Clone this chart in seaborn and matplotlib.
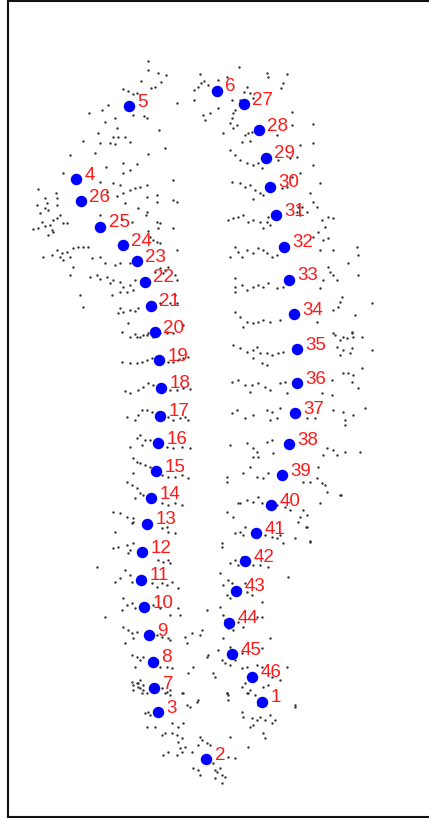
import matplotlib
matplotlib.use("Agg")
import matplotlib.pyplot as plt
import seaborn as sns

# ---------------- data (pixel-space coordinates) -------------
lm_id = list(range(1, 47))
lm_x = [262.3, 206.3, 158.3, 76.0, 128.7, 216.7, 154.3, 153.0, 148.7, 144.3,
        141.0, 142.3, 147.0, 151.0, 155.7, 158.0, 160.0, 160.7, 159.0, 155.0,
        151.0, 145.0, 137.0, 123.0, 100.0, 80.7, 243.7, 259.0, 265.7, 270.0,
        276.0, 283.7, 289.0, 294.0, 296.7, 297.0, 295.3, 289.0, 282.0, 271.3,
        256.3, 245.0, 236.0, 229.3, 231.7, 251.7]
lm_y = [701.7, 759.3, 712.3, 179.0, 106.0, 90.7, 688.3, 662.0, 635.0, 607.3,
        580.0, 552.3, 524.0, 498.0, 471.0, 443.0, 415.7, 387.7, 360.0, 332.0,
        305.7, 281.7, 261.0, 245.0, 226.7, 201.0, 104.3, 130.0, 157.7, 186.7,
        215.0, 246.7, 280.0, 314.0, 349.3, 383.3, 413.3, 444.0, 475.0, 505.0,
        533.0, 561.3, 590.7, 622.7, 654.3, 676.7]

cloud_top = [(148,61),(148,70),(158,73),(166,75),(161,82),(141,81),(155,87),(151,88),(123,89),(128,91),
             (133,94),(137,93),(177,103),(108,105),(102,110),(89,113),(133,115),(144,116),(147,118),(115,118),
             (105,122),(159,130),(117,128),(98,133),(113,137),(118,137),(125,137),
             (200,74),(194,90),(198,87),(201,83),(204,81),(208,85),(218,80),(227,77),(239,67),(267,73),
             (268,77),(287,74),(283,83),(281,88),(247,87),(244,92),(250,93),(232,100),(253,98),(218,108),
             (194,100),(210,113),(203,115),(205,120),(233,113),(235,110),(232,118),(230,123),(233,128),
             (237,125),(240,100),(292,112),(313,124),(292,125),(245,135),(248,133),(252,132),(277,135),(223,133)]

cloud_upper_left = [(83,141),(100,143),(110,143),(115,144),(130,142),(165,148),(148,154),(70,155),(95,153),
                    (123,163),(137,164),(130,170),(106,167),(63,173),(123,173),(100,182),(113,183),(120,185),
                    (147,185),(173,180),(38,189),(56,193),(45,198),(47,203),(57,198),(57,205),(37,205),
                    (107,192),(117,196),(123,193),(130,190),(135,188),(140,187),(157,195),(147,197),(157,202),
                    (125,203),(138,208),(173,200),(177,202),(40,213),(45,208),(48,210),(60,215),(53,220),
                    (57,218),(42,222),(45,226),(50,225),(38,228),(33,229),(52,230),(48,235),(53,232),(63,223),
                    (67,223),(147,212),(146,215),(157,222),(160,223),(158,228),(148,231),(173,228),(100,215),
                    (122,219),(132,222),(150,237),(153,240),(157,242),(160,243),(177,250),
                    (57,250),(62,253),(67,252),(73,248),(78,247),(83,247),(88,247),(43,257),(52,255),(60,257),
                    (70,257),(63,260),(73,267),(92,258),(100,257),(105,263),(115,265),(120,263),(130,263),
                    (70,275),(90,277),(97,275),(100,279),(107,277),(113,280),(120,282),(123,287),(130,285),
                    (127,292),(133,290),(120,292),(135,280),(110,283),(155,272),(160,268),(165,270),(168,267),
                    (163,273),(175,275),(177,280),(80,295),(112,295),(83,307),(120,308),(123,312),(130,310),
                    (135,311),(138,308),(118,313),(160,303),(170,303),(175,295),(177,303),(128,323),(135,334),
                    (140,337),(147,335),(122,332),(153,337),(167,332),(173,333),(183,325),(160,333)]

cloud_upper_right = [(242,142),(250,141),(230,150),(235,155),(240,160),(247,163),(253,165),(258,163),(278,160),
                     (290,158),(297,157),(300,145),(313,143),(313,165),(262,168),(232,182),(240,183),(245,187),
                     (250,185),(255,190),(260,193),(263,195),(282,188),(287,187),(300,173),(292,177),(310,193),
                     (320,183),(253,199),(313,202),(302,207),(297,212),(307,212),(317,207),(228,220),(233,218),
                     (238,217),(243,215),(248,222),(253,220),(260,222),(267,222),(270,225),(263,228),(268,217),
                     (298,207),(300,215),(322,220),(328,217),(333,218),(325,227),(318,232),(235,247),(238,252),
                     (242,257),(247,250),(253,253),(258,248),(263,250),(267,253),(272,257),(277,255),(230,257),
                     (313,237),(323,240),(328,238),(320,250),(333,250),(358,255),(357,247),(235,278),(235,287),
                     (235,292),(242,285),(247,290),(253,287),(258,285),(263,287),(268,283),(277,288),(283,287),
                     (328,267),(330,272),(333,275),(337,280),(323,280),(348,263),(358,275),(320,288),(235,312),
                     (240,317),(247,322),(253,323),(258,322),(263,320),(270,322),(280,320),(243,327),(333,310),
                     (338,307),(342,297),(340,302),(355,315),(372,303),(317,322),(333,333),(352,332),(343,337)]

cloud_mid_left = [(130,337),(137,337),(143,335),(148,333),(167,333),
                  (122,362),(130,363),(137,363),(142,362),(147,360),(152,358),(168,362),(173,362),(178,360),
                  (183,358),(188,357),
                  (125,391),(130,393),(138,390),(143,387),(148,383),(153,385),(170,390),(177,390),(183,388),(190,389),
                  (127,417),(135,420),(138,415),(142,410),(147,410),(152,412),(168,417),(173,420),(180,418),
                  (185,417),(188,420),
                  (130,447),(137,438),(140,435),(145,440),(150,440),(167,447),(173,448),(182,447),(190,448),(142,445),
                  (133,458),(137,462),(140,463),(145,465),(150,467),(133,473),(162,475),(168,477),(175,477),
                  (182,475),(188,478),
                  (127,482),(132,485),(137,488),(140,493),(143,495),(135,498),(162,503),(168,505),(175,503),(182,505),
                  (113,512),(120,513),(127,517),(133,518),(132,523)]

cloud_mid_right = [(233,345),(240,348),(247,352),(253,350),(260,353),(267,353),(272,355),(278,353),(283,352),
                   (253,358),(262,363),(267,365),(257,347),(335,335),(340,340),(347,338),(352,333),(353,337),
                   (362,337),(337,347),(343,350),(352,348),(350,353),(340,355),(372,350),
                   (232,382),(238,380),(245,385),(252,385),(258,383),(265,387),(270,390),(280,383),(285,382),
                   (250,392),(287,393),(332,380),(343,373),(348,373),(353,375),(352,382),(358,388),(362,368),
                   (322,393),(332,395),
                   (232,413),(237,410),(245,418),(253,415),(267,410),(272,412),(280,408),(270,420),(277,418),
                   (307,418),(315,418),(343,412),(345,420),(345,425),(353,415),(365,408),(333,410),
                   (230,445),(247,443),(253,448),(257,452),(267,442),(272,440),(253,457),(258,457),(273,453),
                   (327,448),(333,450),(337,455),(323,455),(345,452),(360,452),
                   (227,477),(243,473),(250,467),(257,477),(263,478),(268,473),(310,482),(317,478),(322,483),
                   (325,485),(327,492),(303,482),(318,467),(340,495),(227,482),
                   (240,503),(247,500),(253,502),(258,497),(262,503),(277,505),(285,507),(290,510),(227,512),
                   (233,517),(303,510),(300,517),(307,515),(298,522),(320,503),(310,541),(306,527),(341,495),
                   (238,503)]

cloud_low_left = [(143,523),(162,528),(168,532),(175,533),(167,527),(115,532),(133,522),
                  (113,548),(118,547),(127,545),(130,550),(128,553),(133,543),(158,560),(163,562),(168,560),
                  (170,563),(97,567),
                  (115,582),(120,578),(125,570),(130,575),(132,582),(152,583),(157,587),(162,583),(167,585),
                  (172,582),(178,588),
                  (123,598),(127,605),(132,603),(135,608),(105,617),(122,610),(153,605),(160,608),(170,615),
                  (178,608),(180,615),
                  (123,627),(128,630),(132,633),(137,632),(157,635),(162,637),(168,638),(170,640),(133,638),(125,643),
                  (132,655),(137,657),(140,660),(143,657),(135,667),(157,660),(160,667),(167,667),(172,668),
                  (132,682),(137,683),(140,680),(138,687),(143,685),(133,690),(142,693),(162,688),(165,693),
                  (170,690),(182,693),
                  (148,712),(187,705),(190,707),
                  (185,637),(192,633),(200,635),(207,610),(188,673),(193,667),(207,657)]

cloud_low_right = [(235,533),(240,532),(245,527),(243,535),(265,535),(272,537),(277,538),(280,535),(283,543),
                   (222,543),(295,538),(307,527),(310,542),
                   (230,563),(235,560),(238,565),(242,557),(253,565),(260,565),(268,567),(220,573),(288,577),
                   (223,585),(228,580),(232,583),(227,595),(230,598),(247,592),(252,595),(245,583),(262,602),
                   (220,607),(223,615),(225,620),(228,628),(233,630),(238,622),(243,627),(257,617),(262,617),
                   (223,638),(270,638),
                   (218,650),(222,660),(225,663),(230,665),(235,660),(242,653),(230,647),(208,655),(213,673),
                   (215,677),(262,648),
                   (242,668),(247,667),(257,665),(262,667),(245,683),(242,687),(263,687),(268,685),(280,680),
                   (287,667),(272,677),
                   (248,693),(255,695),(227,693),(228,700),(258,705),(295,707),(242,712),(243,717),
                   (187,643),(202,630),(222,547),(183,693),(197,702)]

cloud_bottom = [(133,685),(138,683),(140,688),(143,690),(147,693),(167,692),(170,695),
                (198,700),(227,693),(228,695),(145,713),(150,715),(147,727),(155,727),(172,723),(178,727),
                (183,723),(162,735),(165,733),(172,733),(177,735),(178,742),(182,738),(168,752),(163,755),
                (177,755),(182,752),(180,748),(185,747),(192,752),(198,745),(200,737),(202,740),(207,743),
                (210,745),(230,737),(193,768),(198,770),(200,775),(213,763),(215,770),(217,772),(220,768),
                (222,775),(225,777),(215,778),(222,783),(228,757),(235,758),(247,693),(250,690),(252,718),
                (257,720),(260,717),(265,720),(270,715),(275,720),(272,723),(263,733),(265,738),(248,747),
                (295,705),(253,725),(250,727)]

cloud_groups = [cloud_top, cloud_upper_left, cloud_upper_right, cloud_mid_left,
                cloud_mid_right, cloud_low_left, cloud_low_right, cloud_bottom]
cloud_x = [p[0] for g in cloud_groups for p in g]
cloud_y = [p[1] for g in cloud_groups for p in g]

# ---------------- figure ----------------
W, H = 429, 818
fig = plt.figure(figsize=(W / 100, H / 100), dpi=100)
left_px, top_px, bottom_px, right_px = 7.7, 1.0, 817.3, 445.0
ax = fig.add_axes([left_px / W, (H - bottom_px) / H,
                   (right_px - left_px) / W, (bottom_px - top_px) / H])

sns.scatterplot(x=cloud_x, y=cloud_y, s=3, color="#333333", linewidth=0,
                marker="o", ax=ax, legend=False)
sns.scatterplot(x=lm_x, y=lm_y, s=68, color="#0000ff", linewidth=0,
                ax=ax, legend=False, zorder=3)

for i, x, y in zip(lm_id, lm_x, lm_y):
    ax.text(x + 8.5, y + 0.5, str(i), color="#ff1a1a", fontsize=13.5,
            family=["Liberation Sans", "DejaVu Sans"], ha="left", va="baseline", zorder=4)

ax.set_xlim(left_px, right_px)
ax.set_ylim(bottom_px, top_px)
ax.set_xticks([])
ax.set_yticks([])
for side in ["left", "top", "bottom"]:
    ax.spines[side].set_linewidth(1.5)
    ax.spines[side].set_color("#111111")
ax.spines["right"].set_visible(False)
ax.set_facecolor("white")

fig.savefig("out.png", dpi=100)
